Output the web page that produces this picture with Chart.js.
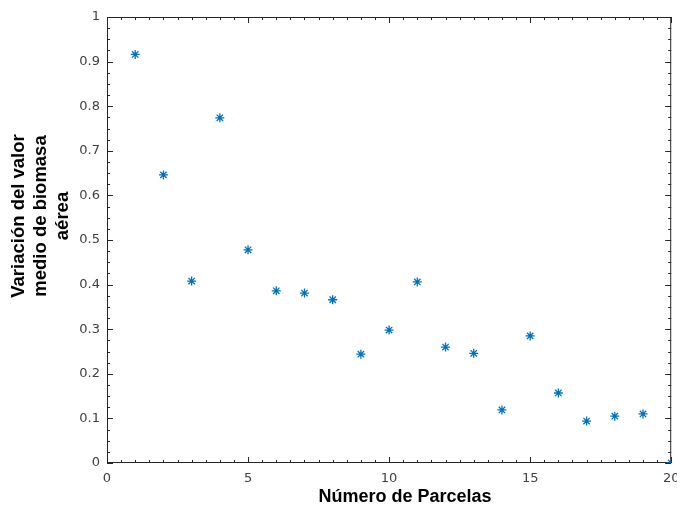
<!DOCTYPE html>
<html>
<head>
<meta charset="utf-8">
<script src="https://cdn.jsdelivr.net/npm/chart.js@4.4.1/dist/chart.umd.min.js"></script>
<style>
  html, body { margin: 0; padding: 0; background: #fff; }
  #wrap { width: 677px; height: 506px; }
</style>
</head>
<body>
<div id="wrap"><canvas id="chart" width="677" height="506"></canvas></div>
<script>
// data
const parcelas = [1, 2, 3, 4, 5, 6, 7, 8, 9, 10, 11, 12, 13, 14, 15, 16, 17, 18, 19, 20];
const variacion = [0.916, 0.646, 0.408, 0.774, 0.478, 0.386, 0.381, 0.366, 0.244, 0.298,
                   0.406, 0.260, 0.246, 0.119, 0.285, 0.157, 0.094, 0.105, 0.110, 0.0];
const xTicks = [0, 5, 10, 15, 20];
const yTicks = [0, 0.1, 0.2, 0.3, 0.4, 0.5, 0.6, 0.7, 0.8, 0.9, 1];
const xTitle = 'Número de Parcelas';
const yTitle = ['Variación del valor', 'medio de biomasa', 'aérea'];

const axisColor = '#262626';

// MATLAB-like box with inward ticks, drawn from the chart scales
const matlabAxes = {
    id: 'matlabAxes',
    beforeDatasetsDraw(chart) {
        const ctx = chart.ctx;
        const xs = chart.scales.x, ys = chart.scales.y;
        const a = chart.chartArea;
        ctx.save();
        ctx.strokeStyle = axisColor;
        ctx.lineWidth = 1;
        ctx.strokeRect(a.left + 0.5, a.top + 0.5, a.right - a.left - 1, a.bottom - a.top - 1);

        ctx.beginPath();
        // x minor ticks every 0.5, major every 5
        for (let v = 0; v <= 20.001; v += 0.5) {
            const px = Math.round(xs.getPixelForValue(v)) + 0.5;
            const len = Math.abs(v % 5) < 1e-6 ? 6 : 3;
            ctx.moveTo(px, a.bottom); ctx.lineTo(px, a.bottom - len);
            ctx.moveTo(px, a.top); ctx.lineTo(px, a.top + len);
        }
        // y minor ticks every 0.025, major every 0.1
        for (let i = 0; i <= 40; i++) {
            const v = i * 0.025;
            const py = Math.round(ys.getPixelForValue(v)) + 0.5;
            const len = i % 4 === 0 ? 6 : 3;
            ctx.moveTo(a.left, py); ctx.lineTo(a.left + len, py);
            ctx.moveTo(a.right, py); ctx.lineTo(a.right - len, py);
        }
        ctx.stroke();

        ctx.fillStyle = '#404040';
        ctx.font = '13px "DejaVu Sans"';
        ctx.textAlign = 'center';
        ctx.textBaseline = 'top';
        xTicks.forEach(v => ctx.fillText(String(v), xs.getPixelForValue(v), a.bottom + 9));
        ctx.textAlign = 'right';
        ctx.textBaseline = 'middle';
        yTicks.forEach(v => ctx.fillText(String(v), a.left - 7, ys.getPixelForValue(v)));

        // axis titles
        ctx.fillStyle = '#000';
        ctx.font = 'bold 18px "Liberation Sans"';
        ctx.textAlign = 'center';
        ctx.textBaseline = 'middle';
        ctx.fillText(xTitle, 405, 497);
        ctx.font = 'bold 18.5px "Liberation Sans"';
        ctx.save();
        ctx.translate(19, 216);
        ctx.rotate(-Math.PI / 2);
        yTitle.forEach((line, i) => ctx.fillText(line, 0, i * 22));
        ctx.restore();
        ctx.restore();
    }
};

new Chart(document.getElementById('chart'), {
    type: 'scatter',
    data: {
        datasets: [{
            label: 'Variación',
            data: parcelas.map((p, i) => ({ x: p, y: variacion[i] })),
            pointStyle: 'star',
            pointRadius: 4.5,
            pointBorderColor: '#0072BD',
            pointBackgroundColor: '#0072BD',
            pointBorderWidth: 1.3
        }]
    },
    options: {
        responsive: false,
        animation: false,
        layout: { padding: { left: 107, top: 17, right: 5, bottom: 43 } },
        plugins: { legend: { display: false }, tooltip: { enabled: false } },
        scales: {
            x: { type: 'linear', min: 0, max: 20, display: false },
            y: { type: 'linear', min: 0, max: 1, display: false }
        }
    },
    plugins: [matlabAxes]
});
</script>
</body>
</html>
